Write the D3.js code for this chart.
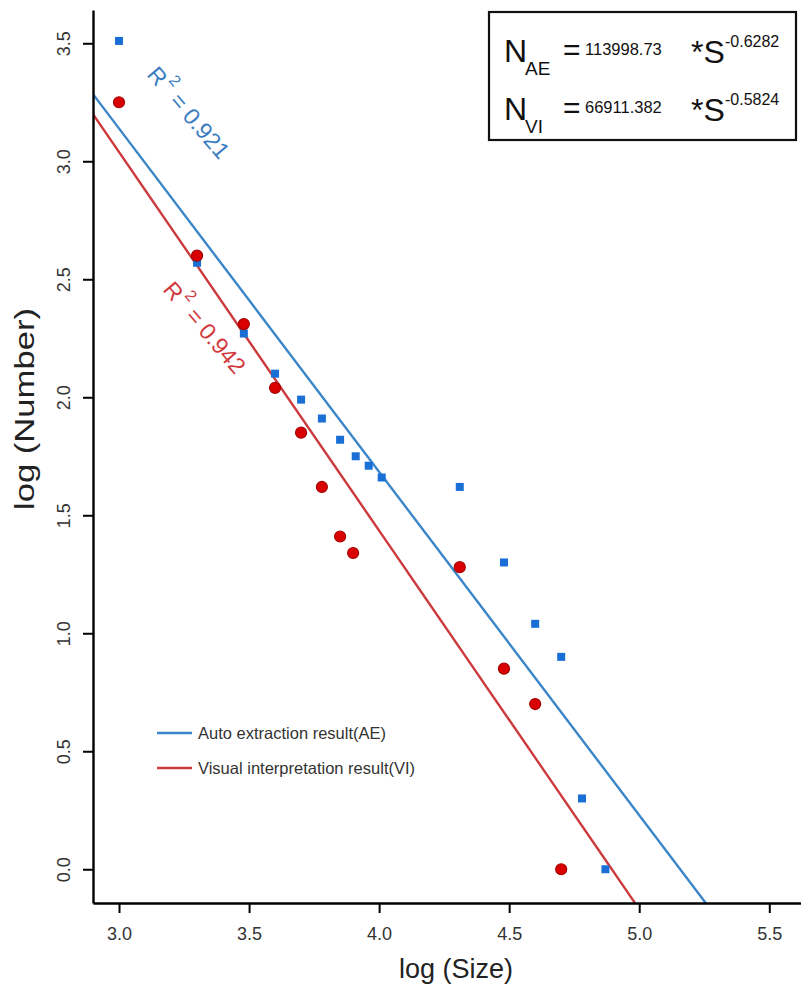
<!DOCTYPE html>
<html>
<head>
<meta charset="utf-8">
<script src="https://cdn.jsdelivr.net/npm/d3@7/dist/d3.min.js"></script>
<style>
  html, body { margin: 0; padding: 0; background: #fff; }
  svg { display: block; font-family: "Liberation Sans", Arial, sans-serif; }
</style>
</head>
<body>
<svg id="chart" width="810" height="1000"></svg>
<script>
// ---- data ----
const aeSize   = [3.00, 3.30, 3.48, 3.60, 3.70, 3.78, 3.85, 3.91, 3.96, 4.01, 4.31, 4.48, 4.60, 4.70, 4.78, 4.87];
const aeNumber = [3.51, 2.57, 2.27, 2.10, 1.99, 1.91, 1.82, 1.75, 1.71, 1.66, 1.62, 1.30, 1.04, 0.90, 0.30, 0.00];
const viSize   = [3.00, 3.30, 3.48, 3.60, 3.70, 3.78, 3.85, 3.90, 4.31, 4.48, 4.60, 4.70];
const viNumber = [3.25, 2.60, 2.31, 2.04, 1.85, 1.62, 1.41, 1.34, 1.28, 0.85, 0.70, 0.00];
const fitNames      = ["AE", "VI"];
const fitSlope      = [-1.455, -1.604];
const fitIntercept  = [7.504, 7.851];
const fitR2         = ["0.921", "0.942"];
const legendLabels  = ["Auto extraction result(AE)", "Visual interpretation result(VI)"];
const eqCoef        = ["113998.73", "66911.382"];
const eqExp         = ["-0.6282", "-0.5824"];
const xTicks = [3.0, 3.5, 4.0, 4.5, 5.0, 5.5];
const yTicks = [0.0, 0.5, 1.0, 1.5, 2.0, 2.5, 3.0, 3.5];

// ---- styles ----
const lineColors  = ["#3a86c8", "#cc3a3e"];
const labelColors = ["#3a7cc0", "#d0383c"];
const squareColor = "#1a6fd6";
const circleFill  = "#d80000";
const circleStroke= "#a80000";

const svg = d3.select("#chart");
const x = d3.scaleLinear().domain([2.9, 5.62]).range([93, 800.5]);
const y = d3.scaleLinear().domain([-0.143, 3.641]).range([903, 10]);

svg.append("defs").append("clipPath").attr("id", "plotclip")
  .append("rect").attr("x", x(2.9)).attr("y", y(3.641))
  .attr("width", x(5.62) - x(2.9)).attr("height", y(-0.143) - y(3.641));

// fitted lines
const plot = svg.append("g").attr("clip-path", "url(#plotclip)");
fitNames.forEach((n, i) => {
  const xs = x.domain();
  plot.append("line")
    .attr("x1", x(xs[0])).attr("y1", y(fitIntercept[i] + fitSlope[i] * xs[0]))
    .attr("x2", x(xs[1])).attr("y2", y(fitIntercept[i] + fitSlope[i] * xs[1]))
    .attr("stroke", lineColors[i]).attr("stroke-width", 2.4);
});

// AE squares
const sq = 8;
svg.append("g").selectAll("rect").data(aeSize).join("rect")
  .attr("x", (d) => x(d) - sq / 2)
  .attr("y", (d, i) => y(aeNumber[i]) - sq / 2)
  .attr("width", sq).attr("height", sq)
  .attr("fill", squareColor);

// VI circles
svg.append("g").selectAll("circle").data(viSize).join("circle")
  .attr("cx", (d) => x(d))
  .attr("cy", (d, i) => y(viNumber[i]))
  .attr("r", 5.5)
  .attr("fill", circleFill).attr("stroke", circleStroke).attr("stroke-width", 1.2);

// axes
const xAxis = svg.append("g").attr("transform", `translate(0,${y(-0.143)})`)
  .call(d3.axisBottom(x).tickValues(xTicks).tickFormat(d3.format(".1f")).tickSize(10).tickSizeOuter(0));
const yAxis = svg.append("g").attr("transform", `translate(${x(2.9)},0)`)
  .call(d3.axisLeft(y).tickValues(yTicks).tickFormat(d3.format(".1f")).tickSize(10).tickSizeOuter(0));
[xAxis, yAxis].forEach(a => {
  a.select(".domain").attr("stroke", "#000").attr("stroke-width", 2.4);
  a.selectAll(".tick line").attr("stroke", "#000").attr("stroke-width", 2);
  a.selectAll(".tick text").attr("fill", "#333").style("font-size", "18px")
    .style("font-family", "'Liberation Sans', Arial, sans-serif");
});
xAxis.selectAll(".tick text").attr("y", 37).attr("dy", null);
yAxis.selectAll(".tick text").attr("x", 0).attr("y", -23).attr("dy", null)
  .attr("transform", "rotate(-90)").style("text-anchor", "middle");

// axis titles
svg.append("text").attr("x", 456).attr("y", 978).attr("text-anchor", "middle")
  .style("font-size", "27px").attr("fill", "#222").text("log (Size)");
svg.append("text").attr("transform", "translate(34,409) rotate(-90)").attr("text-anchor", "middle")
  .style("font-size", "27px").attr("fill", "#222").attr("textLength", 202).attr("lengthAdjust", "spacingAndGlyphs")
  .text("log (Number)");

// R² labels
const r2Pos = [[146, 75], [162, 290]];
fitNames.forEach((n, i) => {
  const t = svg.append("text")
    .attr("transform", `translate(${r2Pos[i][0]},${r2Pos[i][1]}) rotate(49.5)`)
    .attr("fill", labelColors[i]).style("font-size", "23px");
  t.append("tspan").text("R");
  t.append("tspan").attr("dy", -13).attr("dx", 2).style("font-size", "16px").text("2");
  t.append("tspan").attr("dy", 13).attr("dx", 1).text(" = " + fitR2[i]);
});

// legend
legendLabels.forEach((l, i) => {
  const ly = 733 + i * 35;
  svg.append("line").attr("x1", 157).attr("x2", 192).attr("y1", ly).attr("y2", ly)
    .attr("stroke", lineColors[i]).attr("stroke-width", 2.4);
  svg.append("text").attr("x", 198).attr("y", ly + 6).style("font-size", "16.5px")
    .attr("fill", "#333").text(l);
});

// equation box
svg.append("rect").attr("x", 489).attr("y", 12).attr("width", 307).attr("height", 128)
  .attr("fill", "#fff").attr("stroke", "#111").attr("stroke-width", 2.2);
fitNames.forEach((n, i) => {
  const by = 62 + i * 58;
  svg.append("text").attr("x", 504).attr("y", by).style("font-size", "32px").attr("fill", "#111").text("N");
  svg.append("text").attr("x", 525).attr("y", by + 13).style("font-size", "19px").attr("fill", "#111").text(n);
  svg.append("text").attr("x", 563).attr("y", by - 2).style("font-size", "30px").attr("fill", "#111").text("=");
  svg.append("text").attr("x", 585).attr("y", by - 7).style("font-size", "16.5px").attr("fill", "#111").text(eqCoef[i]);
  svg.append("text").attr("x", 691).attr("y", by + 1).style("font-size", "32px").attr("fill", "#111").text("*S");
  svg.append("text").attr("x", 725).attr("y", by - 15).style("font-size", "16px").attr("fill", "#111").text(eqExp[i]);
});
</script>
</body>
</html>
